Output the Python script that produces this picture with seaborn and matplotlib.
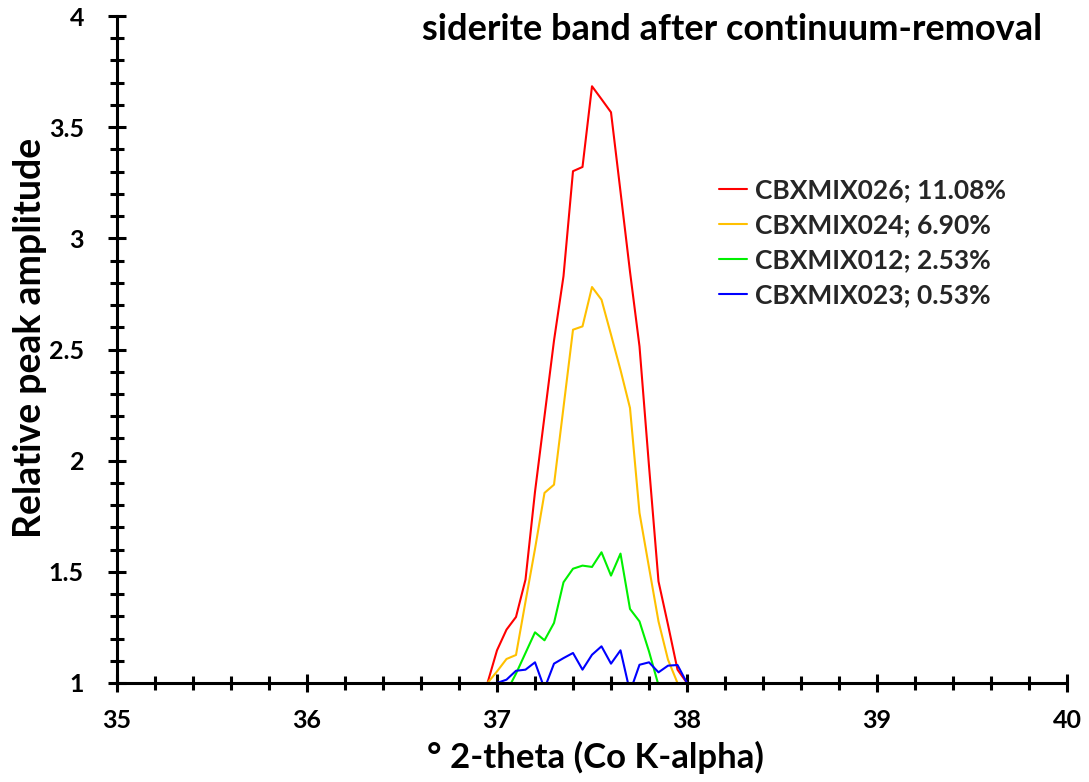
import matplotlib
matplotlib.use("Agg")
import matplotlib.pyplot as plt
import seaborn as sns
import numpy as np
import pandas as pd
from matplotlib.ticker import MultipleLocator, FixedLocator

two_theta = [36.95, 37.00, 37.05, 37.10, 37.15, 37.20, 37.25, 37.30, 37.35, 37.40, 37.45,
             37.50, 37.55, 37.60, 37.65, 37.70, 37.75, 37.80, 37.85, 37.90, 37.95, 38.00]

cbxmix026 = [1.00, 1.147, 1.24, 1.297, 1.465, 1.86, 2.20, 2.54, 2.83, 3.302, 3.321,
             3.684, 3.626, 3.567, 3.21, 2.85, 2.514, 1.976, 1.457, 1.262, 1.06, 1.00]
cbxmix024 = [1.00, 1.052, 1.108, 1.126, 1.366, 1.603, 1.855, 1.892, 2.24, 2.589, 2.604,
             2.781, 2.724, 2.567, 2.408, 2.237, 1.765, 1.52, 1.277, 1.105, 1.00, 0.98]
cbxmix012 = [0.90, 0.92, 0.96, 1.042, 1.135, 1.228, 1.192, 1.27, 1.453, 1.514, 1.528,
             1.522, 1.588, 1.483, 1.582, 1.333, 1.277, 1.142, 0.99, 0.95, 0.93, 0.95]
cbxmix023 = [1.00, 1.00, 1.015, 1.055, 1.06, 1.093, 0.975, 1.087, 1.112, 1.135, 1.06,
             1.127, 1.165, 1.087, 1.147, 0.96, 1.082, 1.093, 1.048, 1.078, 1.081, 1.00]

series_labels = ["CBXMIX026; 11.08%", "CBXMIX024; 6.90%", "CBXMIX012; 2.53%", "CBXMIX023; 0.53%"]
series_colors = ["#FF0000", "#FFC000", "#00F000", "#0000FF"]

x_ticks = [35, 36, 37, 38, 39, 40]
y_ticks = [1, 1.5, 2, 2.5, 3, 3.5, 4]
y_tick_labels = ["1", "1.5", "2", "2.5", "3", "3.5", "4"]

title_text = "siderite band after continuum-removal"
x_label = "° 2-theta (Co K-alpha)"
y_label = "Relative peak amplitude"

sns.set_theme(style="white")
plt.rcParams['font.family'] = ['Lato', 'DejaVu Sans']

fig = plt.figure(figsize=(10.89, 7.82), dpi=100)
ax = fig.add_axes([117/1089, 1 - 683/782, (1067 - 117)/1089, (683 - 16)/782])

for vals, lab, col in zip([cbxmix026, cbxmix024, cbxmix012, cbxmix023], series_labels, series_colors):
    df = pd.DataFrame({"x": two_theta, "y": vals})
    sns.lineplot(data=df, x="x", y="y", color=col, label=lab, ax=ax, linewidth=1.5, sort=False)

ax.set_xlim(35, 40)
ax.set_ylim(1, 4)
ax.xaxis.set_major_locator(FixedLocator(x_ticks))
ax.yaxis.set_major_locator(FixedLocator(y_ticks))
ax.set_yticklabels(y_tick_labels)
ax.xaxis.set_minor_locator(MultipleLocator(0.2))
ax.yaxis.set_minor_locator(MultipleLocator(0.1))

for s in ["top", "right"]:
    ax.spines[s].set_visible(False)
for s in ["left", "bottom"]:
    ax.spines[s].set_color("black")
    ax.spines[s].set_linewidth(2.2)

ax.tick_params(axis="both", which="major", direction="inout", length=13.5, width=2.2,
               color="black", labelsize=18, labelcolor="black")
ax.tick_params(axis="x", which="major", pad=12)
ax.tick_params(axis="y", which="major", pad=17)
ax.tick_params(axis="both", which="minor", direction="inout", length=10, width=2.2, color="black")
ax.tick_params(axis="x", which="both", bottom=True)
ax.tick_params(axis="y", which="both", left=True)
for lbl in ax.get_xticklabels() + ax.get_yticklabels():
    lbl.set_fontweight("bold")

ax.set_xlabel(x_label, fontsize=25, fontweight="bold", color="black")
ax.set_ylabel(y_label, fontsize=27, fontweight="bold", color="black")
ax.xaxis.label.set_va("center")
ax.yaxis.label.set_va("center")
ax.xaxis.set_label_coords((595 - 117) / 950, (683 - 757) / 667)
ax.yaxis.set_label_coords((30 - 117) / 950, (683 - 338) / 667)
ax.grid(False)

fig.text(732/1089, 1 - 30/782, title_text, fontsize=26, fontweight="bold", color="black",
         ha="center", va="center")

leg = ax.legend(loc="upper left", bbox_to_anchor=(706/1089, 1 - 165/782),
                bbox_transform=fig.transFigure, frameon=False, borderpad=0,
                handlelength=1.05, handletextpad=0.3, labelspacing=0.42,
                prop={"weight": "bold", "size": 19})
for line in leg.get_lines():
    line.set_linewidth(1.5)

fig.savefig("out.png", dpi=100)
